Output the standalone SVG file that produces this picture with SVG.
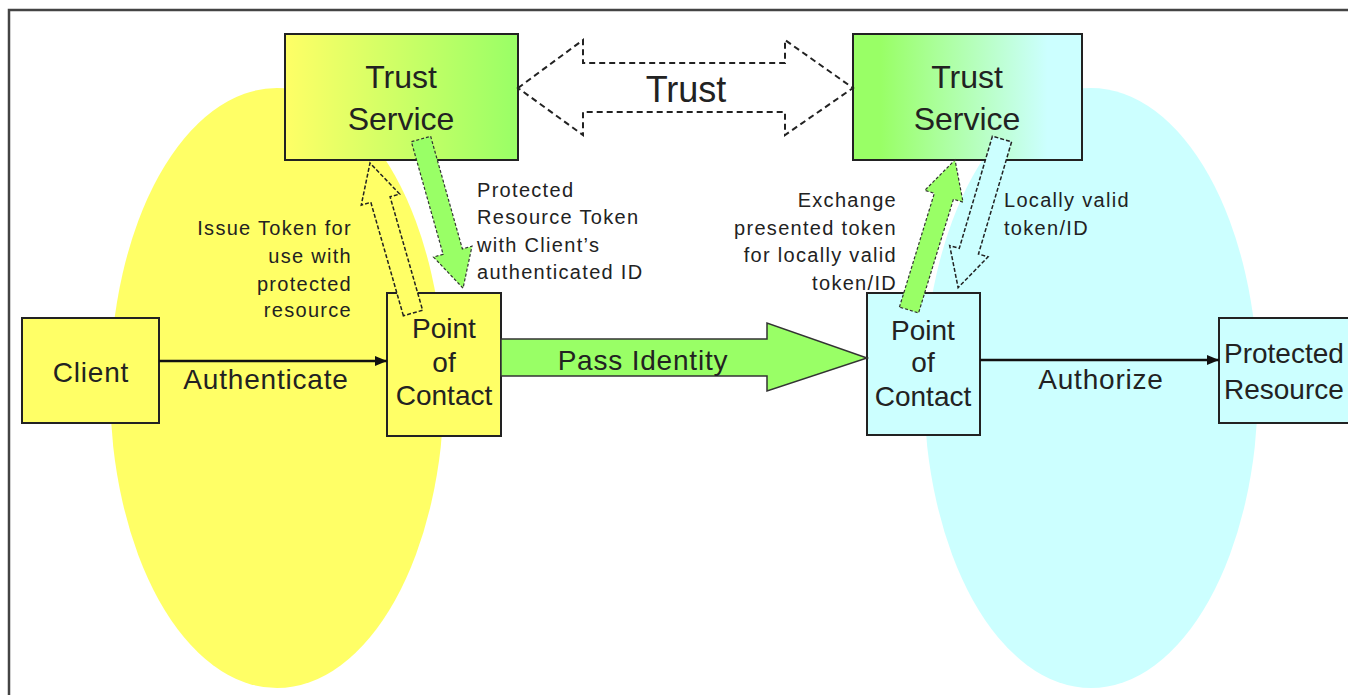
<svg xmlns="http://www.w3.org/2000/svg" width="1348" height="695" viewBox="0 0 1348 695">
<defs>
<linearGradient id="gYG" x1="0" y1="0" x2="1" y2="0"><stop offset="0" stop-color="#FFFF66"/><stop offset="1" stop-color="#99FF66"/></linearGradient>
<linearGradient id="gGC" x1="0" y1="0" x2="1" y2="0"><stop offset="0.12" stop-color="#99FF66"/><stop offset="0.85" stop-color="#CCFFFF"/></linearGradient>
<marker id="ah" markerWidth="12" markerHeight="10" refX="12" refY="5" orient="auto" markerUnits="userSpaceOnUse"><path d="M0,0 L12,5 L0,10 z" fill="#111"/></marker>
<style>
text{font-family:"Liberation Sans",Arial,sans-serif;fill:#222}
.box{stroke:#222;stroke-width:2}
.big{font-size:28px;letter-spacing:0.8px}
.ts{font-size:32px}
.sm{font-size:20px;letter-spacing:1.3px}
.line{stroke:#111;stroke-width:2.5;fill:none}
.garrow{fill:#99FF66;stroke:#333;stroke-width:1.2;stroke-dasharray:3,2}
.harrow{stroke:#222;stroke-width:1.5;stroke-dasharray:4,2}
</style>
</defs>
<rect width="1348" height="695" fill="#FFFFFF"/>
<rect x="9" y="10" width="1400" height="700" fill="none" stroke="#444" stroke-width="2.5"/>
<g id="zones">
<ellipse cx="277" cy="388" rx="167" ry="300" fill="#FFFF66"/>
<ellipse cx="1091" cy="388" rx="167" ry="300" fill="#CCFFFF"/>
</g>
<g id="trust-service-left">
<rect class="box" x="285" y="34" width="233" height="126" fill="url(#gYG)"/>
<text class="ts" x="401" y="88" text-anchor="middle">Trust</text>
<text class="ts" x="401" y="130" text-anchor="middle">Service</text>
</g>
<g id="trust-service-right">
<rect class="box" x="853" y="34" width="229" height="126" fill="url(#gGC)"/>
<text class="ts" x="967" y="88" text-anchor="middle">Trust</text>
<text class="ts" x="967" y="130" text-anchor="middle">Service</text>
</g>
<g id="client">
<rect class="box" x="22" y="318" width="137" height="105" fill="#FFFF66"/>
<text class="big" x="91" y="382" text-anchor="middle">Client</text>
</g>
<g id="poc-left">
<rect class="box" x="387" y="293" width="114" height="143" fill="#FFFF66"/>
<text class="big" x="444" y="338" text-anchor="middle" style="letter-spacing:0">Point</text>
<text class="big" x="444" y="372" text-anchor="middle" style="letter-spacing:0">of</text>
<text class="big" x="444" y="405" text-anchor="middle" style="letter-spacing:0">Contact</text>
</g>
<g id="poc-right">
<rect class="box" x="867" y="293" width="113" height="142" fill="#CCFFFF"/>
<text class="big" x="923" y="340" text-anchor="middle" style="letter-spacing:0">Point</text>
<text class="big" x="923" y="372" text-anchor="middle" style="letter-spacing:0">of</text>
<text class="big" x="923" y="406" text-anchor="middle" style="letter-spacing:0">Contact</text>
</g>
<g id="protected-resource">
<rect class="box" x="1219" y="318" width="160" height="105" fill="#CCFFFF"/>
<text class="big" x="1224" y="363" style="letter-spacing:0">Protected</text>
<text class="big" x="1224" y="399" style="letter-spacing:0">Resource</text>
</g>
<g id="connectors">
<line class="line" x1="159" y1="361" x2="387" y2="361" marker-end="url(#ah)"/>
<text class="big" x="266" y="389" text-anchor="middle">Authenticate</text>
<line class="line" x1="980" y1="360" x2="1219" y2="360" marker-end="url(#ah)"/>
<text class="big" x="1101" y="389" text-anchor="middle">Authorize</text>
<polygon points="501,339 767,339 767,323 867,358 767,391 767,376 501,376" fill="#99FF66" stroke="#333" stroke-width="1.5"/>
<text class="big" x="643" y="370" text-anchor="middle">Pass Identity</text>
<polygon points="518,88 583,40 583,63 785,63 785,40 853,88 785,135 785,112 583,112 583,135" fill="#FFFFFF" stroke="#222" stroke-width="2" stroke-dasharray="6,4"/>
<text x="686" y="102" text-anchor="middle" style="font-size:36px">Trust</text>
<polygon class="harrow" fill="#FFFF66" transform="translate(413,313) rotate(-106)" points="0,-10 118,-10 118,-20 156,0 118,20 118,10 0,10"/>
<polygon class="garrow" transform="translate(421,139) rotate(74.26)" points="0,-10 117,-10 117,-20 155,0 117,20 117,10 0,10"/>
<polygon class="garrow" transform="translate(909,310) rotate(-72.95)" points="0,-10 119,-10 119,-20 157,0 119,20 119,10 0,10"/>
<polygon class="harrow" fill="#CCFFFF" transform="translate(1002,139) rotate(106.45)" points="0,-10 117,-10 117,-20 155,0 117,20 117,10 0,10"/>
<text class="sm" x="352" y="235" text-anchor="end">Issue Token for</text>
<text class="sm" x="352" y="263" text-anchor="end">use with</text>
<text class="sm" x="352" y="291" text-anchor="end">protected</text>
<text class="sm" x="352" y="317" text-anchor="end">resource</text>
<text class="sm" x="477" y="197">Protected</text>
<text class="sm" x="477" y="224">Resource Token</text>
<text class="sm" x="477" y="252">with Client’s</text>
<text class="sm" x="477" y="279">authenticated ID</text>
<text class="sm" x="897" y="207" text-anchor="end">Exchange</text>
<text class="sm" x="897" y="235" text-anchor="end">presented token</text>
<text class="sm" x="897" y="262" text-anchor="end">for locally valid</text>
<text class="sm" x="897" y="290" text-anchor="end">token/ID</text>
<text class="sm" x="1004" y="207">Locally valid</text>
<text class="sm" x="1004" y="235">token/ID</text>
</g>
</svg>
